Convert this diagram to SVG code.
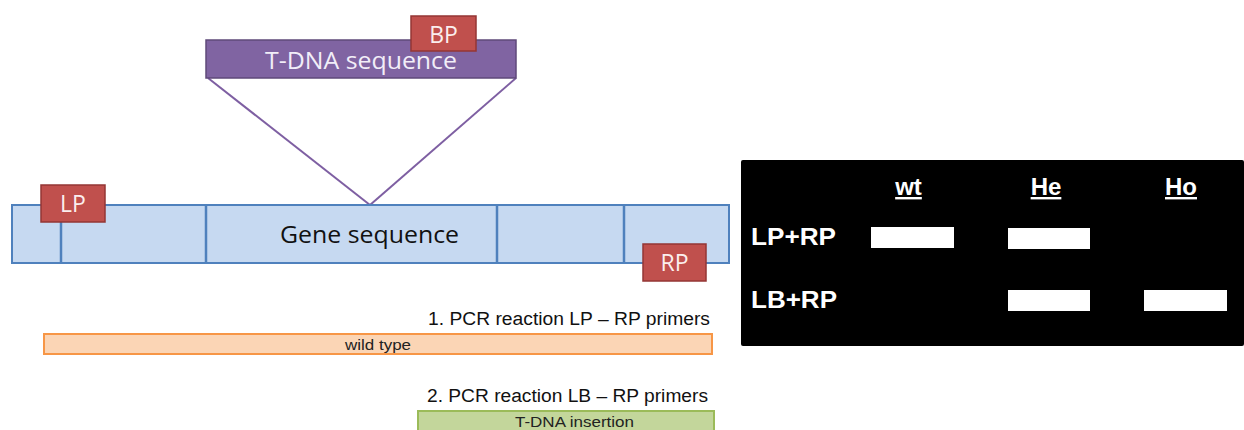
<svg xmlns="http://www.w3.org/2000/svg" width="1244" height="430" viewBox="0 0 1244 430">
<style>
.cal{font-family:"Open Sans","Liberation Sans",sans-serif}
.ar{font-family:"Liberation Sans",Arial,sans-serif}
.seg{fill:#c6d9f1;stroke:#4f81bd;stroke-width:2}
.div{stroke:#4f81bd;stroke-width:2.5}
.pr{fill:#c0504d;stroke:#943634;stroke-width:1.5}
.prt{fill:#fbeeee;font-size:23px;text-anchor:middle}
.band{fill:#ffffff}
.tw{fill:#ffffff;font-weight:bold;font-size:24px}
</style>
<rect width="1244" height="430" fill="#ffffff"/>
<g id="connectors">
<line x1="208" y1="78" x2="370" y2="205" stroke="#7e5fa2" stroke-width="2"/>
<line x1="516" y1="78" x2="370" y2="205" stroke="#7e5fa2" stroke-width="2"/>
</g>
<g id="tdna">
<rect x="206" y="40" width="310" height="38" fill="#8064a2" stroke="#5f497a" stroke-width="1.5"/>
<text class="cal" x="361" y="69" fill="#f2eef8" font-size="23" text-anchor="middle" textLength="192" lengthAdjust="spacingAndGlyphs">T-DNA sequence</text>
</g>
<g id="bp">
<rect class="pr" x="411" y="16" width="65" height="35"/>
<text class="cal prt" x="443.5" y="43">BP</text>
</g>
<g id="gene">
<rect class="seg" x="12" y="205" width="717" height="58"/>
<line class="div" x1="61" y1="205" x2="61" y2="263"/>
<line class="div" x1="206" y1="205" x2="206" y2="263"/>
<line class="div" x1="497" y1="205" x2="497" y2="263"/>
<line class="div" x1="624" y1="205" x2="624" y2="263"/>
<text class="cal" x="369.5" y="243" fill="#111" font-size="23" text-anchor="middle" textLength="179" lengthAdjust="spacingAndGlyphs">Gene sequence</text>
</g>
<g id="lp">
<rect class="pr" x="41" y="185" width="64" height="37"/>
<text class="cal prt" x="73" y="212">LP</text>
</g>
<g id="rp">
<rect class="pr" x="643" y="244" width="63" height="37"/>
<text class="cal prt" x="674.5" y="271">RP</text>
</g>
<g id="pcr1">
<text class="ar" x="710" y="325" font-size="18" fill="#111" text-anchor="end" textLength="282" lengthAdjust="spacingAndGlyphs">1. PCR reaction LP – RP primers</text>
<rect x="44" y="334" width="668" height="20" fill="#fbd5b5" stroke="#f79646" stroke-width="2"/>
<text class="ar" x="378" y="350" font-size="15" fill="#222" text-anchor="middle" textLength="66" lengthAdjust="spacingAndGlyphs">wild type</text>
</g>
<g id="pcr2">
<text class="ar" x="708" y="402" font-size="18" fill="#111" text-anchor="end" textLength="281" lengthAdjust="spacingAndGlyphs">2. PCR reaction LB – RP primers</text>
<rect x="418" y="411" width="296" height="21" fill="#c3d69b" stroke="#9bbb59" stroke-width="2"/>
<text class="ar" x="574.5" y="427" font-size="15" fill="#222" text-anchor="middle" textLength="119" lengthAdjust="spacingAndGlyphs">T-DNA insertion</text>
</g>
<g id="gel">
<rect x="741" y="160" width="503" height="186" fill="#000000" rx="2"/>
<text class="ar tw" x="908.5" y="195" text-anchor="middle" text-decoration="underline">wt</text>
<text class="ar tw" x="1046" y="195" text-anchor="middle" text-decoration="underline">He</text>
<text class="ar tw" x="1181" y="195" text-anchor="middle" text-decoration="underline">Ho</text>
<text class="ar tw" x="751" y="245" textLength="85" lengthAdjust="spacingAndGlyphs">LP+RP</text>
<text class="ar tw" x="751" y="308" textLength="86" lengthAdjust="spacingAndGlyphs">LB+RP</text>
<rect class="band" x="871" y="227" width="83" height="21"/>
<rect class="band" x="1008" y="228" width="82" height="21"/>
<rect class="band" x="1008" y="290" width="82" height="21"/>
<rect class="band" x="1144" y="290" width="83" height="21"/>
</g>
</svg>
